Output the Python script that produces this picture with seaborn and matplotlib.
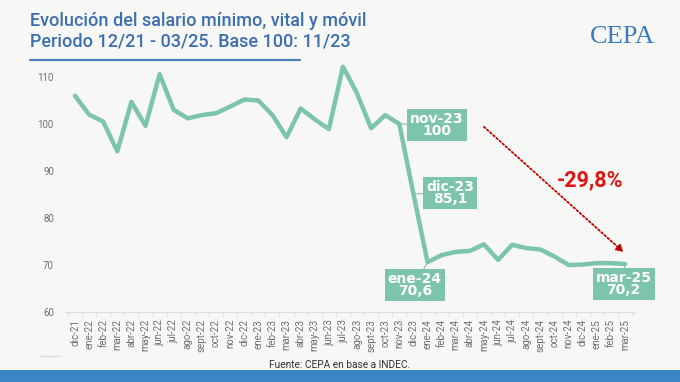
import matplotlib
matplotlib.use("Agg")
import matplotlib.pyplot as plt
import seaborn as sns
import pandas as pd
from matplotlib.patches import Rectangle
from matplotlib.lines import Line2D

months = ["dic-21", "ene-22", "feb-22", "mar-22", "abr-22", "may-22", "jun-22", "jul-22",
          "ago-22", "sept-22", "oct-22", "nov-22", "dic-22", "ene-23", "feb-23", "mar-23",
          "abr-23", "may-23", "jun-23", "jul-23", "ago-23", "sept-23", "oct-23", "nov-23",
          "dic-23", "ene-24", "feb-24", "mar-24", "abr-24", "may-24", "jun-24", "jul-24",
          "ago-24", "sept-24", "oct-24", "nov-24", "dic-24", "ene-25", "feb-25", "mar-25"]
salario = [106.0, 102.0, 100.5, 94.2, 104.7, 99.6, 110.6, 103.0,
           101.2, 101.9, 102.3, 103.7, 105.2, 105.0, 101.9, 97.2,
           103.3, 101.0, 98.9, 112.2, 106.5, 99.1, 101.9, 100.0,
           85.1, 70.6, 72.1, 72.8, 73.0, 74.4, 71.1, 74.3,
           73.6, 73.3, 71.8, 70.0, 70.1, 70.4, 70.4, 70.2]
yticks = [60, 70, 80, 90, 100, 110]
labels_pts = [("nov-23", "100"), ("dic-23", "85,1"), ("ene-24", "70,6"), ("mar-25", "70,2")]
variacion = "-29,8%"

df = pd.DataFrame({"i": range(len(months)), "mes": months, "valor": salario})

BG = "#f7f7f5"
GREEN = "#7cc4aa"
BLUE = "#3c6fb0"

sns.set_theme(style="white")
plt.rcParams["font.family"] = ["Roboto", "DejaVu Sans"]

fig = plt.figure(figsize=(6.8, 3.82), dpi=100, facecolor=BG)
ax = fig.add_axes([65 / 680, (382 - 312) / 382, 570 / 680, (312 - 62.9) / 382])
ax.set_facecolor(BG)

sns.lineplot(data=df, x="i", y="valor", ax=ax, color=GREEN, linewidth=3.2,
             solid_joinstyle="round", solid_capstyle="round")

ax.set_xlim(-0.71, len(months) - 1 + 0.71)
ax.set_ylim(60, 113)
ax.set_yticks(yticks)
ax.set_yticklabels([str(t) for t in yticks], fontsize=7, color="#707070")
ax.set_xticks(range(len(months)))
ax.set_xticklabels(months, rotation=90, fontsize=7, color="#707070")
ax.set_xticks([k + 0.5 for k in range(-1, len(months))], minor=True)
ax.tick_params(axis="x", which="major", length=0, pad=5)
ax.tick_params(axis="x", which="minor", length=3, color="#dddddd", width=0.8, bottom=True)
ax.tick_params(axis="y", length=0, pad=8)
ax.set_xlabel("")
ax.set_ylabel("")
for s in ["top", "right", "left"]:
    ax.spines[s].set_visible(False)
ax.spines["bottom"].set_color("#dddddd")
ax.spines["bottom"].set_linewidth(0.8)

# data label boxes
box_pos = {"nov-23": (25.67, 99.8), "dic-23": (26.6, 85.4),
           "ene-24": (24.1, 65.7), "mar-25": (38.9, 65.9)}
for mes, val in labels_pts:
    k = months.index(mes)
    bx, by = box_pos[mes]
    ax.annotate(f"{mes}\n{val}", xy=(k, salario[k]), xytext=(bx, by),
                ha="center", va="center", fontsize=10, fontweight="bold",
                color="white", linespacing=0.82, family=["DejaVu Sans"],
                bbox=dict(boxstyle="square,pad=0.22", fc=GREEN, ec="none"),
                arrowprops=dict(arrowstyle="-", color=GREEN, lw=0.8,
                                shrinkA=0, shrinkB=0))

# red dotted arrow
start = (29.0, 99.4)
end = (38.87, 72.8)
ax.annotate("", xy=end, xytext=start,
            arrowprops=dict(arrowstyle="-", color="#c00000", lw=1.3, ls=(0, (1, 1.3)),
                            shrinkA=0, shrinkB=3))
ax.annotate("", xy=end, xytext=(end[0] - 0.35, end[1] + 0.95),
            arrowprops=dict(arrowstyle="-|>,head_length=0.35,head_width=0.2",
                            color="#c00000", lw=1.0, shrinkA=0, shrinkB=0))
ax.text(36.5, 88.1, variacion, ha="center", va="center", fontsize=15.5,
        fontweight="bold", color="#dd1515")

# title
fig.text(30 / 680, 1 - 21.5 / 382, "Evolución del salario mínimo, vital y móvil",
         ha="left", va="center", fontsize=13, fontweight="medium", color=BLUE)
fig.text(30 / 680, 1 - 42 / 382, "Periodo 12/21 - 03/25. Base 100: 11/23",
         ha="left", va="center", fontsize=13, fontweight="medium", color=BLUE)
fig.add_artist(Line2D([30 / 680, 300 / 680], [1 - 60 / 382, 1 - 60 / 382],
                      color="#4a80bf", lw=1.6, transform=fig.transFigure))

# logo
fig.text(622 / 680, 1 - 37 / 382, "CEPA", ha="center", va="center", fontsize=19,
         family=["Liberation Serif"], color="#3b7bbf")

# footer
fig.text(340 / 680, 1 - 365 / 382, "Fuente: CEPA en base a INDEC.", ha="center",
         va="center", fontsize=7.3, color="#333333")
fig.add_artist(Line2D([40 / 680, 60 / 680], [1 - 356 / 382, 1 - 356 / 382],
                      color="#dddddd", lw=1.0, transform=fig.transFigure))
fig.add_artist(Rectangle((0, 0), 1, 12 / 382, transform=fig.transFigure,
                         fc="#3b84c6", ec="none"))

fig.savefig("out.png", dpi=100, facecolor=BG)
